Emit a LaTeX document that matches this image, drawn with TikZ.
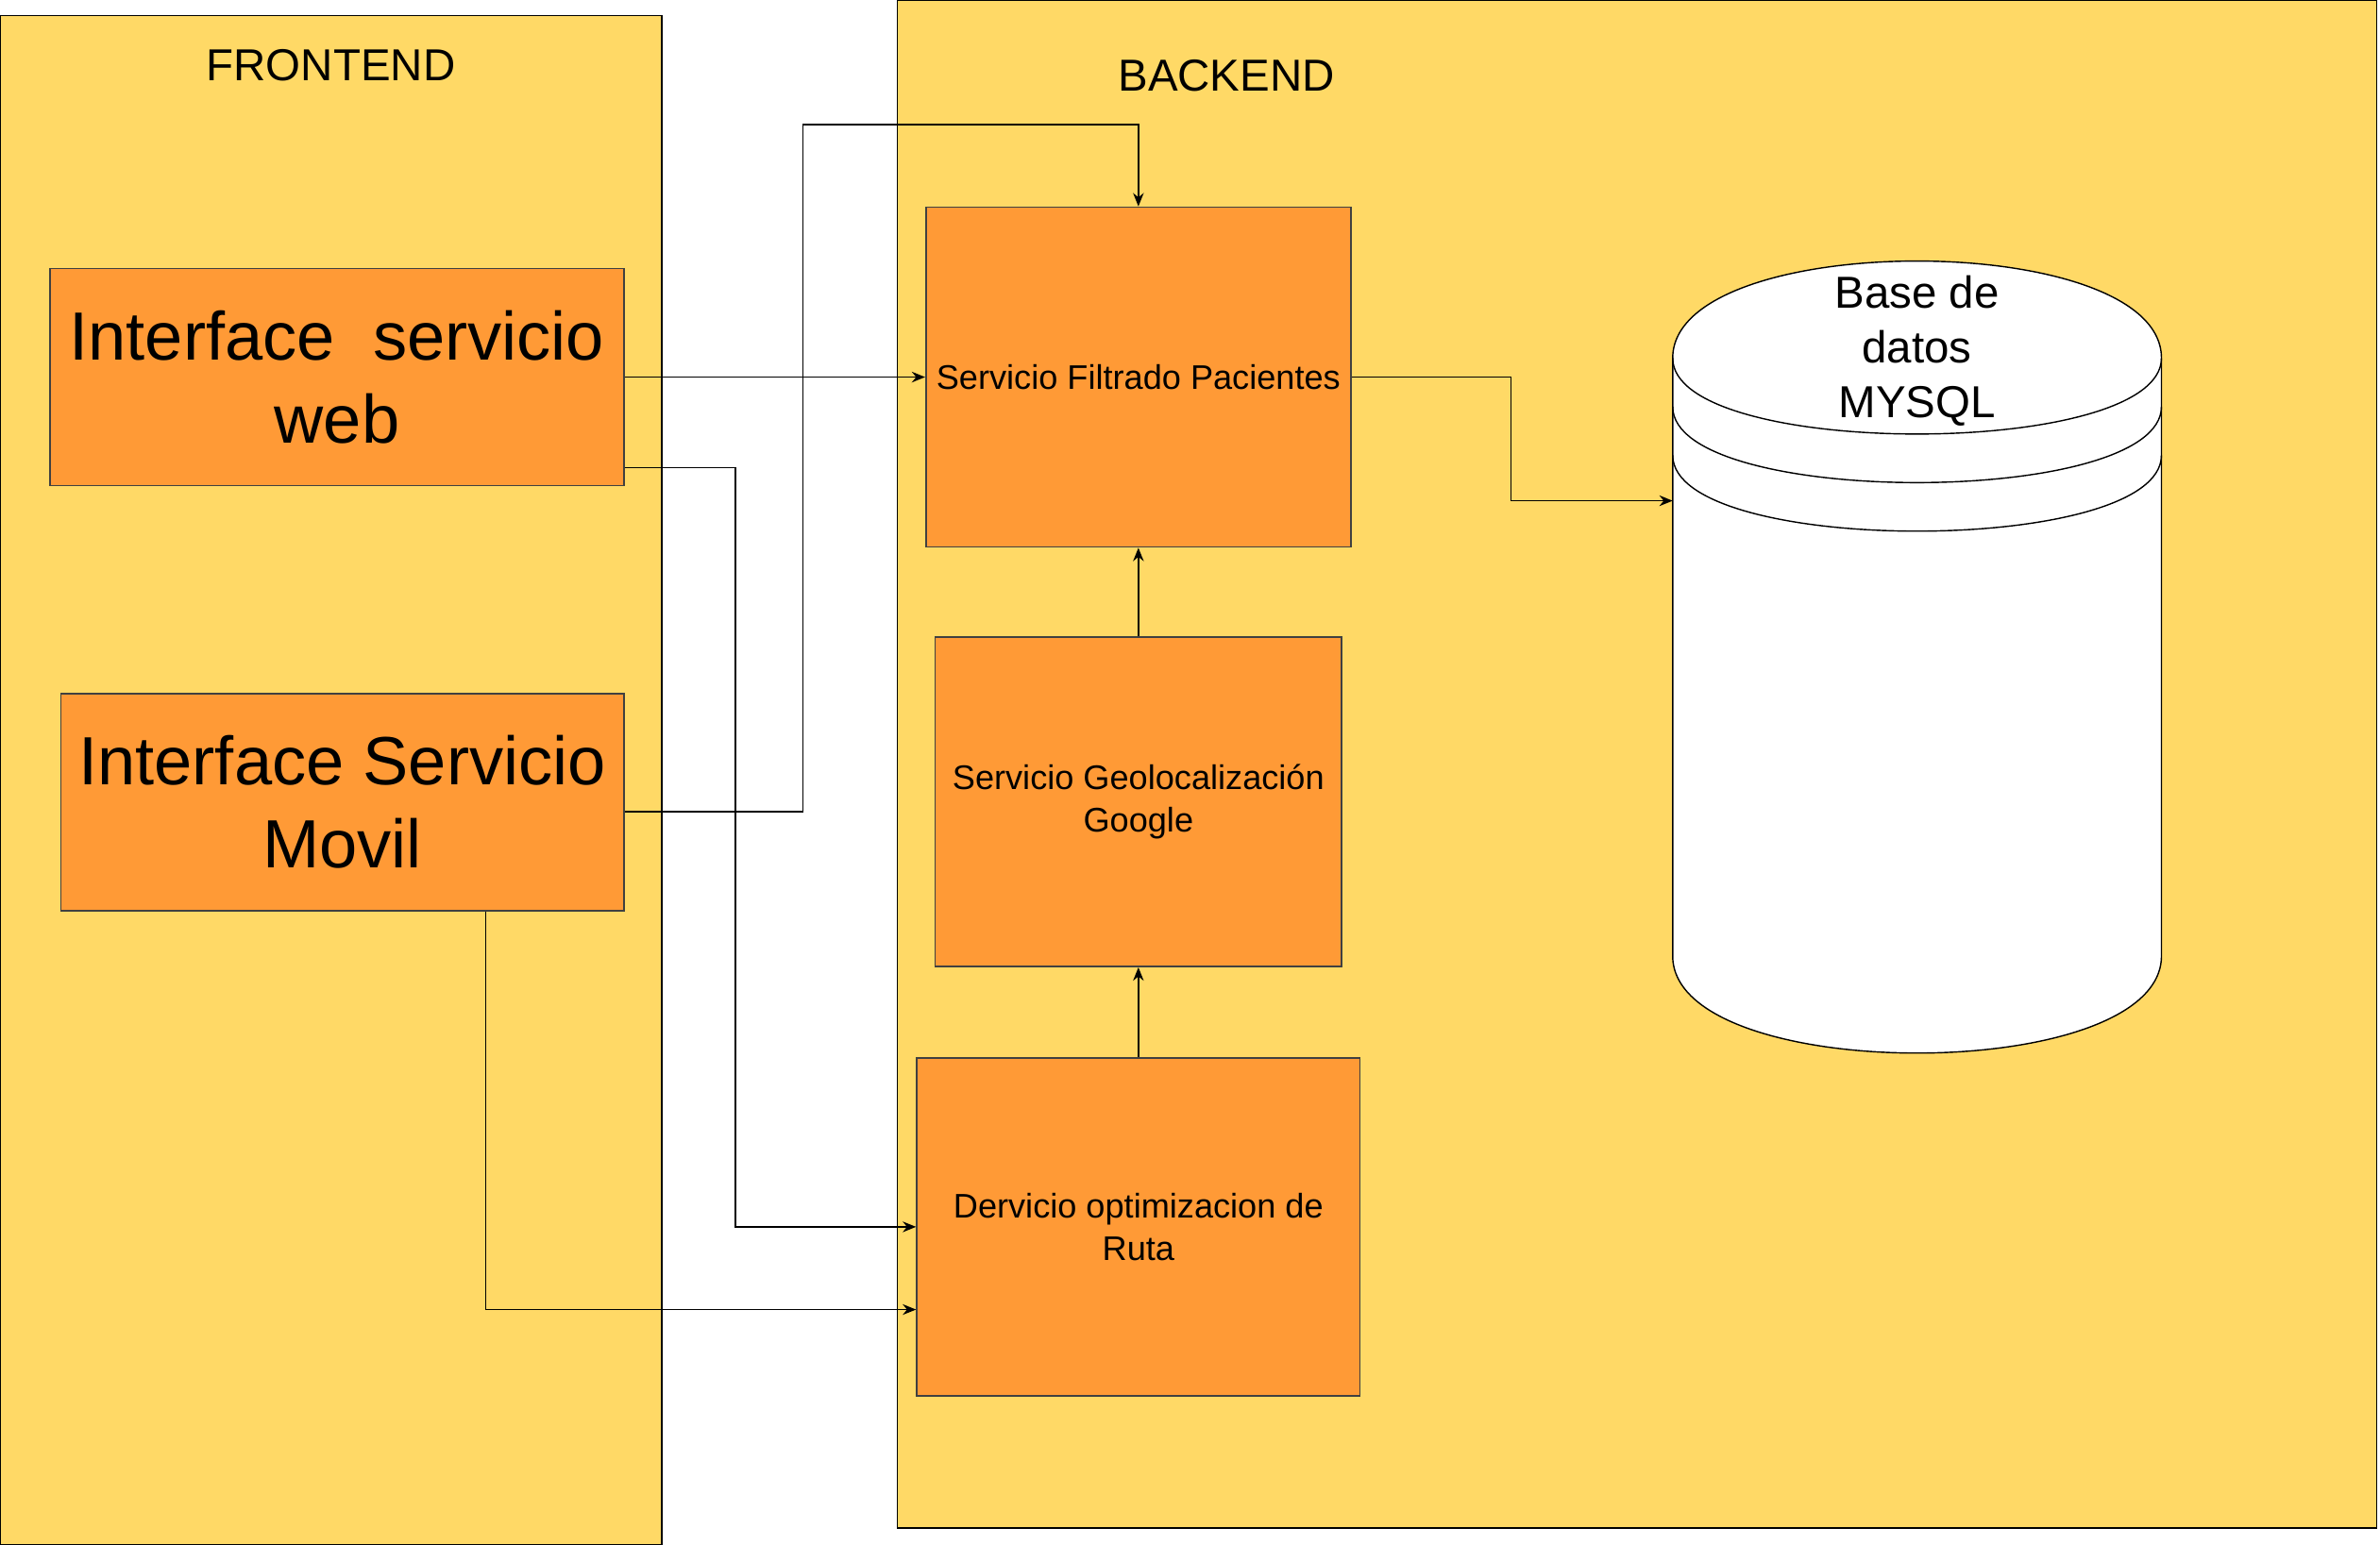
\documentclass[tikz,border=0pt]{standalone}
\usepackage{fontspec}
\setmainfont{Liberation Sans}
\usetikzlibrary{arrows.meta,calc}

\definecolor{contyellow}{HTML}{FFD966}
\definecolor{svcorange}{HTML}{FF9A36}

\begin{document}
\begin{tikzpicture}[x=0.02cm,y=-0.02cm,
    container/.style={draw=black,line width=0.5pt,fill=contyellow,inner sep=0pt},
    svc/.style={draw=black!75,line width=0.6pt,fill=svcorange,align=center,inner sep=0pt},
    bigtext/.style={font=\fontsize{25.6}{31.3}\selectfont},
    midtext/.style={font=\fontsize{12.8}{15.9}\selectfont},
    headtext/.style={font=\fontsize{16.8}{20.5}\selectfont,align=center},
    conn/.style={line width=0.5pt,-{Stealth[length=5pt,width=4pt]}},
  ]
    \useasboundingbox (0,0) rectangle (1568,1018);

    % containers
    \node[container,minimum width=8.72cm,minimum height=20.16cm] (front) at (218,514) {};
    \node[container,minimum width=19.5cm,minimum height=20.14cm] (back) at (1078.5,503.5) {};
    \node[headtext] (frontlbl) at (218,43) {FRONTEND};
    \node[headtext] (backlbl) at (808,50) {BACKEND};

    % frontend
    \node[svc,bigtext,minimum width=7.56cm,minimum height=2.86cm] (web) at (222,248.5) {Interface\ \ servicio\\web};
    \node[svc,bigtext,minimum width=7.42cm,minimum height=2.86cm] (mov) at (225.5,528.5) {Interface Servicio\\Movil};

    % backend
    \node[svc,midtext,minimum width=5.6cm,minimum height=4.48cm] (filt) at (750,248.5) {Servicio Filtrado Pacientes};
    \node[svc,midtext,minimum width=5.36cm,minimum height=4.34cm] (geo) at (750,528.5) {Servicio Geolocalización\\Google};
    \node[svc,midtext,minimum width=5.84cm,minimum height=4.46cm] (derv) at (750,808.5) {Dervicio optimizacion de\\Ruta};

    % base de datos
    \draw[line width=0.5pt,fill=white] (1102,236) .. controls (1102,150.7) and (1424,150.7) .. (1424,236)
      -- (1424,630) .. controls (1424,715.3) and (1102,715.3) .. (1102,630) -- cycle;
    \foreach \s in {236,268,300}
      \draw[line width=0.5pt] (1102,\s) .. controls (1102,\s+66.7) and (1424,\s+66.7) .. (1424,\s);
    \node[headtext] (db) at (1263,231) {Base de\\datos\\MYSQL};
    \coordinate (dbin) at (1102,330);

    % connectors
    \draw[conn] (web.east) -- (filt.west);
    \draw[conn] ($(web.east)+(0,59.5)$) -- ++(73,0) |- (derv.west);
    \draw[conn] ($(mov.east)+(0,6.5)$) -| (529,82) -| (filt.north);
    \draw[conn] ($(mov.south)+(94.5,0)$) |- ($(derv.west)+(0,54.5)$);
    \draw[conn] (filt.east) -- ++(105,0) |- (dbin);
    \draw[conn] (geo.north) -- (filt.south);
    \draw[conn] (derv.north) -- (geo.south);
\end{tikzpicture}
\end{document}
